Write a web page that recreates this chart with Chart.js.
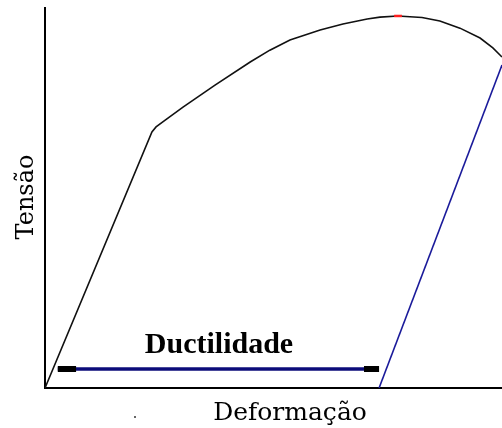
<!DOCTYPE html>
<html>
<head>
<meta charset="utf-8">
<script src="https://cdn.jsdelivr.net/npm/chart.js@4"></script>
<style>
    html, body { margin: 0; padding: 0; background: #fff; }
    #wrap { width: 502px; height: 428px; }
</style>
</head>
<body>
<div id="wrap"><canvas id="chart" width="502" height="428"></canvas></div>
<script>
// Curva tensão x deformação (unidades arbitrárias, 0-100 nos dois eixos)
const curveStrain = [0, 23.4, 24.3, 26.3, 30.2, 37.2, 44.9, 49.2, 53.6, 60.2, 65.2, 70.5, 73.3, 77.2, 82.5, 86.4, 90.8, 95.2, 98.0, 100];
const curveStress = [0, 67.4, 68.7, 70.5, 73.9, 79.7, 85.8, 88.9, 91.6, 94.2, 95.8, 97.1, 97.6, 97.9, 97.5, 96.6, 94.7, 92.1, 89.5, 87.1];

// Ponto de tensão máxima (marca vermelha)
const peakStrain = [76.4, 78.1];
const peakStress = [97.9, 97.9];

// Descarga elástica (linha azul)
const unloadStrain = [73.1, 100];
const unloadStress = [0, 85.0];

// Seta "Ductilidade"
const arrowStrain = [2.8, 72.9];
const arrowStress = [5.0, 5.0];
const arrowCapLeft = [2.8, 6.8];
const arrowCapRight = [69.8, 73.1];

const xLabel = 'Deformação';
const yLabel = 'Tensão';
const ductLabel = 'Ductilidade';

function toPoints(xs, ys) {
    return xs.map((x, i) => ({ x: x, y: ys[i] }));
}

// Textos e fundo desenhados à mão
const labelsPlugin = {
    id: 'labels',
    beforeDraw(chart) {
        const c = chart.ctx;
        c.save();
        c.fillStyle = '#ffffff';
        c.fillRect(0, 0, chart.width, chart.height);
        c.restore();
    },
    afterDraw(chart) {
        const c = chart.ctx;
        const xs = chart.scales.x;
        const ys = chart.scales.y;
        c.save();
        c.fillStyle = '#000';
        c.textAlign = 'center';
        c.textBaseline = 'alphabetic';

        c.font = '25px "DejaVu Serif"';
        c.fillText(xLabel, 290, 420);

        c.font = '24px "DejaVu Serif"';
        c.save();
        c.translate(33, 197);
        c.rotate(-Math.PI / 2);
        c.fillText(yLabel, 0, 0);
        c.restore();

        c.font = 'bold 30px "Liberation Serif"';
        const midX = (xs.getPixelForValue(arrowStrain[0]) + xs.getPixelForValue(arrowStrain[1])) / 2;
        c.fillText(ductLabel, midX + 1, ys.getPixelForValue(arrowStress[0]) - 16);

        // pequeno ponto solto da imagem original
        c.fillStyle = '#666';
        c.fillRect(134, 416, 2, 2);
        c.restore();
    }
};

const line = (data, color, width) => ({
    data: data,
    showLine: true,
    borderColor: color,
    borderWidth: width,
    pointRadius: 0,
    tension: 0,
    fill: false
});

// ordem do array: o primeiro conjunto fica por cima
new Chart(document.getElementById('chart'), {
    type: 'scatter',
    data: {
        datasets: [
            line(toPoints(arrowCapLeft, [arrowStress[0], arrowStress[0]]), '#000000', 6),
            line(toPoints(arrowCapRight, [arrowStress[0], arrowStress[0]]), '#000000', 6),
            line(toPoints(peakStrain, peakStress), '#ff2020', 2.5),
            line(toPoints(curveStrain, curveStress), '#111111', 1.6),
            line(toPoints(unloadStrain, unloadStress), '#1a1a9a', 1.6),
            line(toPoints(arrowStrain, arrowStress), '#0c0c7a', 3.5)
        ]
    },
    options: {
        responsive: false,
        animation: false,
        layout: {
            padding: { left: 37, top: 8, right: 0, bottom: 32 }
        },
        plugins: {
            legend: { display: false },
            tooltip: { enabled: false }
        },
        scales: {
            x: {
                type: 'linear',
                min: 0,
                max: 100,
                grid: { display: false },
                ticks: { display: false },
                border: { display: true, color: '#000', width: 2 }
            },
            y: {
                type: 'linear',
                min: 0,
                max: 100,
                grid: { display: false },
                ticks: { display: false },
                border: { display: true, color: '#000', width: 2 }
            }
        }
    },
    plugins: [labelsPlugin]
});
</script>
</body>
</html>
